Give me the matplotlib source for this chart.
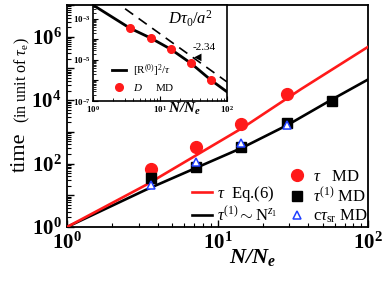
import matplotlib
matplotlib.use("Agg")
import matplotlib.pyplot as plt
import numpy as np
from matplotlib.ticker import FuncFormatter, LogLocator, NullFormatter
from matplotlib.lines import Line2D

plt.rcParams.update({
    "font.family": ["Liberation Serif", "DejaVu Serif"],
    "mathtext.fontset": "custom",
    "mathtext.rm": "Liberation Serif",
    "mathtext.it": "Liberation Serif:italic",
    "mathtext.bf": "Liberation Serif:bold",
    "mathtext.bfit": "Liberation Serif:italic:bold",
    "mathtext.sf": "Liberation Serif",
})

# ---- main plot data ----
N_tau = [3.6, 7.2, 14.4, 28.8]
tau_md = [66, 324, 1790, 15400]
N_tau1 = [3.6, 7.2, 14.4, 28.8, 57.6]
tau1_md = [34, 79, 325, 1850, 9300]
N_sr = [3.6, 7.2, 14.4, 28.8]
ctsr_md = [21, 114, 435, 1630]

N_eq6 = [1.0, 3.33, 14.6, 35.7, 100.0]
tau_eq6 = [1.0, 20.9, 1318, 21900, 478600]
N_fit = [1.0, 3.33, 14.6, 29.3, 56.6, 100.0]
tau1_fit = [1.0, 14.8, 316, 1660, 10000, 44700]

# ---- inset data ----
N_D = [3.56, 7.35, 14.6, 29.0, 57.5]
D_md = [3.55e-4, 1.15e-4, 3.3e-5, 6.9e-6, 1.05e-6]
N_R = [1.0, 3.56, 7.35, 14.6, 29.0, 57.5, 100.0]
R2_tau = [4.8e-3, 3.55e-4, 1.15e-4, 3.3e-5, 6.9e-6, 1.05e-6, 2.8e-7]
N_slope = [1.0, 100.0]
slope_line = [4.2e-2, 8.5e-7]

W, H = 382, 286
fig = plt.figure(figsize=(W / 100, H / 100), dpi=100)

def fx(px):
    return px / W

def fy(py):
    return 1 - py / H

ax = fig.add_axes([fx(67), fy(227), fx(368) - fx(67), fy(5) - fy(227)])
ax.set_xscale("log")
ax.set_yscale("log")
ax.set_xlim(1, 100)
ax.set_ylim(1, 1e7)

red = "#ff1a1a"
ax.plot(N_eq6, tau_eq6, color=red, lw=1.9, zorder=3)
ax.plot(N_fit, tau1_fit, color="black", lw=1.9, zorder=2)
ax.plot(N_tau, tau_md, "o", color=red, ms=8.5, zorder=4)
ax.plot(N_tau1, tau1_md, "s", color="black", ms=6.5, zorder=4)
ax.plot(N_sr, ctsr_md, "^", mfc="white", mec="#2040ff", mew=1.1, ms=6, zorder=5)

fmt = FuncFormatter(lambda v, p: r"$\mathbf{10^{%d}}$" % int(round(np.log10(v))))
ax.xaxis.set_major_formatter(fmt)
ax.xaxis.set_major_locator(LogLocator(base=10, numticks=10))
ax.yaxis.set_major_locator(LogLocator(base=10, subs=(1.0,), numticks=20))
ax.yaxis.set_major_formatter(FuncFormatter(
    lambda v, p: (r"$\mathbf{10^{%d}}$" % int(round(np.log10(v)))) if int(round(np.log10(v))) % 2 == 0 else ""))
ax.xaxis.set_minor_locator(LogLocator(base=10, subs=np.arange(2, 10), numticks=10))
ax.yaxis.set_minor_locator(LogLocator(base=10, subs=np.arange(2, 10), numticks=20))
ax.xaxis.set_minor_formatter(NullFormatter())
ax.yaxis.set_minor_formatter(NullFormatter())
ax.tick_params(which="both", direction="in", top=False, right=False)
ax.tick_params(which="major", length=5, width=1.0, labelsize=15, pad=4)
ax.tick_params(which="minor", length=3, width=0.8)
for s in ax.spines.values():
    s.set_linewidth(1.3)

# axis labels
fig.text(fx(253), fy(257), r"$\mathbfit{N/N_e}$", fontsize=16, ha="center", va="center")
fig.text(fx(20), fy(152), "time", fontsize=16, rotation=90, ha="center", va="center")
fig.text(fx(22), fy(80), r"(in unit of $\tau_{\mathrm{e}}$)", fontsize=11.5,
         rotation=90, ha="center", va="center")

# legends
h_md = [Line2D([], [], ls="none", marker="o", color=red, ms=8.5),
        Line2D([], [], ls="none", marker="s", color="black", ms=6.5),
        Line2D([], [], ls="none", marker="^", mfc="white", mec="#2040ff", mew=1.1, ms=6)]
l_md = [r"$\tau$   MD", r"$\tau^{(1)}$ MD", r"c$\tau_{\mathrm{sr}}$ MD"]
leg1 = ax.legend(h_md, l_md, loc="lower left", bbox_to_anchor=(0.735, 0.01),
                 frameon=False, fontsize=12, handlelength=1.0, handletextpad=0.5,
                 labelspacing=0.12, borderaxespad=0.0, borderpad=0.0)
ax.add_artist(leg1)
h_ln = [Line2D([], [], color=red, lw=1.9), Line2D([], [], color="black", lw=1.9)]
l_ln = [r"$\tau$  Eq.(6)", r"$\tau^{(1)}\sim\mathrm{N}^{z_1}$"]
ax.legend(h_ln, l_ln, loc="lower left", bbox_to_anchor=(0.415, 0.01),
          frameon=False, fontsize=12, handlelength=1.2, handletextpad=0.3,
          labelspacing=0.12, borderaxespad=0.0, borderpad=0.0)

# ---- inset ----
axi = fig.add_axes([fx(93), fy(101), fx(227) - fx(93), fy(5) - fy(101)])
axi.set_xscale("log")
axi.set_yscale("log")
axi.set_xlim(1, 100)
axi.set_ylim(1e-7, 4.8e-3)
axi.plot(N_R, R2_tau, color="black", lw=2.0)
axi.plot(N_slope, slope_line, color="black", lw=1.2, ls=(0, (6, 4)))
axi.plot(N_D, D_md, "o", color=red, ms=5.5)
axi.xaxis.set_major_locator(LogLocator(base=10, numticks=10))
axi.yaxis.set_major_locator(LogLocator(base=10, subs=(1.0,), numticks=20))
axi.xaxis.set_major_formatter(fmt)
axi.yaxis.set_major_formatter(FuncFormatter(
    lambda v, p: (r"$\mathbf{10^{%d}}$" % int(round(np.log10(v)))) if int(round(np.log10(v))) % 2 != 0 else ""))
axi.xaxis.set_minor_locator(LogLocator(base=10, subs=np.arange(2, 10), numticks=10))
axi.yaxis.set_minor_locator(LogLocator(base=10, subs=np.arange(2, 10), numticks=20))
axi.xaxis.set_minor_formatter(NullFormatter())
axi.yaxis.set_minor_formatter(NullFormatter())
axi.tick_params(which="both", direction="in", top=False, right=False)
axi.tick_params(which="major", length=3.5, width=0.8, labelsize=6.5, pad=2)
axi.tick_params(which="minor", length=2, width=0.6)
for s in axi.spines.values():
    s.set_linewidth(1.2)
axi.text(0.73, 0.86, r"$D\tau_0/a^2$", transform=axi.transAxes, fontsize=12,
         ha="center", va="center")
axi.text(0.83, 0.56, "-2.34", transform=axi.transAxes, fontsize=8, ha="center", va="center")
axi.text(0.78, 0.46, u"\u25C0", transform=axi.transAxes, fontsize=7, ha="center",
         va="center", family=["DejaVu Sans"])
fig.text(fx(185), fy(109), r"$\mathbfit{N/N_e}$", fontsize=11, ha="center", va="center")
h_in = [Line2D([], [], color="black", lw=2.0),
        Line2D([], [], ls="none", marker="o", color=red, ms=5.5)]
l_in = [r"$[\mathrm{R}^{(0)}]^2/\tau$", r"$D$     MD"]
axi.legend(h_in, l_in, loc="lower left", bbox_to_anchor=(0.1, 0.03), frameon=False,
           fontsize=8, handlelength=1.3, handletextpad=0.6, labelspacing=0.3,
           borderaxespad=0.1)

fig.savefig("out.png", dpi=100)
